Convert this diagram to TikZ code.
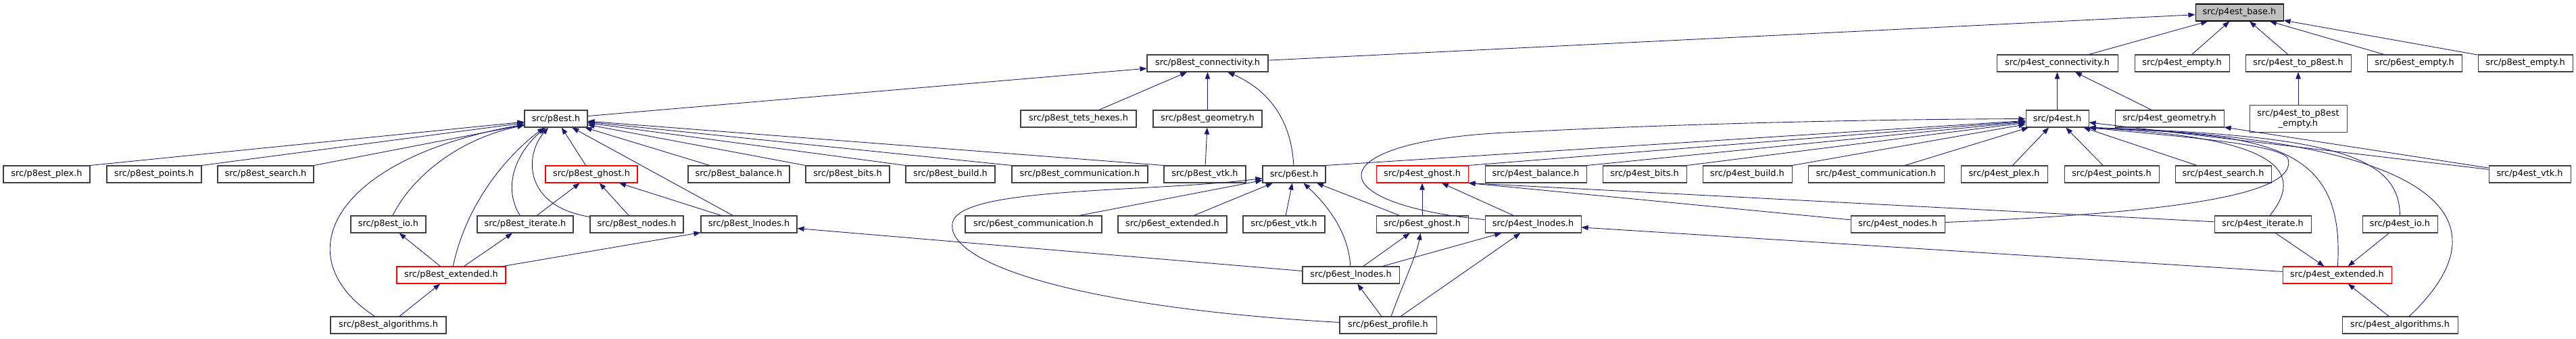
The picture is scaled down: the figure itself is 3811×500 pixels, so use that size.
\documentclass[tikz,border=0pt]{standalone}
\usepackage{fontspec}
\setsansfont{DejaVu Sans}
\usetikzlibrary{arrows.meta}
\definecolor{edgeblue}{RGB}{25,25,112}
\definecolor{boxgray}{RGB}{64,64,64}
\definecolor{rootgray}{RGB}{191,191,191}

\begin{document}
\begin{tikzpicture}[
    x=0.03cm, y=-0.03cm,
    font=\sffamily\fontsize{11}{13}\selectfont,
    box/.style={draw=boxgray, fill=white, line width=0.9pt, minimum height=0.75cm, inner xsep=1pt, inner ysep=0pt, align=center},
    wd/.style={minimum width={0.03cm*#1}},
    trunc/.style={box, draw=red},
    root/.style={box, draw=black, fill=rootgray},
    arr/.style={draw=edgeblue, line width=0.75pt, -{Triangle[length=0.3cm, width=0.22cm]}},
]
\path[fill=white] (0,0) rectangle (3811,500);

% Row 0
\node[root, wd=130] (base) at (3313,18.5) {src/p4est\_base.h};

% Row 1
\node[box, wd=179] (p8conn)  at (1786.5,93.5) {src/p8est\_connectivity.h};
\node[box, wd=179] (p4conn)  at (3043.5,93.5) {src/p4est\_connectivity.h};
\node[box, wd=140] (p4empty) at (3228,93.5)   {src/p4est\_empty.h};
\node[box, wd=156] (p4top8)  at (3400,93.5)   {src/p4est\_to\_p8est.h};
\node[box, wd=140] (p6empty) at (3572,93.5)   {src/p6est\_empty.h};
\node[box, wd=140] (p8empty) at (3736,93.5)   {src/p8est\_empty.h};

% Row 2
\node[box, wd=93]  (p8est)  at (822.5,175.5)  {src/p8est.h};
\node[box, wd=171] (p8tets) at (1595.5,175.5) {src/p8est\_tets\_hexes.h};
\node[box, wd=161] (p8geom) at (1786.5,175.5) {src/p8est\_geometry.h};
\node[box, wd=93]  (p4est)  at (3043.5,175.5) {src/p4est.h};
\node[box, wd=161] (p4geom) at (3209.5,175.5) {src/p4est\_geometry.h};
\node[box, wd=144, minimum height=1.2cm] (p4top8empty) at (3400,175.5) {src/p4est\_to\_p8est\\\_empty.h};

% Row 3
\node[box, wd=128]   (p8plex)    at (69,257.5)     {src/p8est\_plex.h};
\node[box, wd=140]   (p8points)  at (228,257.5)    {src/p8est\_points.h};
\node[box, wd=142]   (p8search)  at (393,257.5)    {src/p8est\_search.h};
\node[trunc, wd=136] (p8ghost)   at (875,257.5)    {src/p8est\_ghost.h};
\node[box, wd=150]   (p8balance) at (1093,257.5)   {src/p8est\_balance.h};
\node[box, wd=124]   (p8bits)    at (1254,257.5)   {src/p8est\_bits.h};
\node[box, wd=132]   (p8build)   at (1406,257.5)   {src/p8est\_build.h};
\node[box, wd=201]   (p8comm)    at (1597.5,257.5) {src/p8est\_communication.h};
\node[box, wd=121]   (p8vtk)     at (1782.5,257.5) {src/p8est\_vtk.h};
\node[box, wd=93]    (p6est)     at (1914.5,257.5) {src/p6est.h};
\node[trunc, wd=136] (p4ghost)   at (2104,257.5)   {src/p4est\_ghost.h};
\node[box, wd=150]   (p4balance) at (2272,257.5)   {src/p4est\_balance.h};
\node[box, wd=124]   (p4bits)    at (2433,257.5)   {src/p4est\_bits.h};
\node[box, wd=132]   (p4build)   at (2585,257.5)   {src/p4est\_build.h};
\node[box, wd=201]   (p4comm)    at (2775.5,257.5) {src/p4est\_communication.h};
\node[box, wd=128]   (p4plex)    at (2965,257.5)   {src/p4est\_plex.h};
\node[box, wd=140]   (p4points)  at (3124,257.5)   {src/p4est\_points.h};
\node[box, wd=142]   (p4search)  at (3289,257.5)   {src/p4est\_search.h};
\node[box, wd=121]   (p4vtk)     at (3742.5,257.5) {src/p4est\_vtk.h};

% Row 4
\node[box, wd=111] (p8io)     at (574.5,331.5)  {src/p8est\_io.h};
\node[box, wd=142] (p8iter)   at (777,331.5)    {src/p8est\_iterate.h};
\node[box, wd=138] (p8nodes)  at (942,331.5)    {src/p8est\_nodes.h};
\node[box, wd=142] (p8lnodes) at (1108,331.5)   {src/p8est\_lnodes.h};
\node[box, wd=202] (p6comm)   at (1529,331.5)   {src/p6est\_communication.h};
\node[box, wd=161] (p6ext)    at (1734.5,331.5) {src/p6est\_extended.h};
\node[box, wd=121] (p6vtk)    at (1899.5,331.5) {src/p6est\_vtk.h};
\node[box, wd=136] (p6ghost)  at (2104,331.5)   {src/p6est\_ghost.h};
\node[box, wd=142] (p4lnodes) at (2268,331.5)   {src/p4est\_lnodes.h};
\node[box, wd=139] (p4nodes)  at (2807.5,331.5) {src/p4est\_nodes.h};
\node[box, wd=143] (p4iter)   at (3347.5,331.5) {src/p4est\_iterate.h};
\node[box, wd=111] (p4io)     at (3550.5,331.5) {src/p4est\_io.h};

% Row 5
\node[trunc, wd=161] (p8ext)    at (667.5,406.5)  {src/p8est\_extended.h};
\node[box, wd=143]   (p6lnodes) at (1998.5,406.5) {src/p6est\_lnodes.h};
\node[trunc, wd=161] (p4ext)    at (3457.5,406.5) {src/p4est\_extended.h};

% Row 6
\node[box, wd=171] (p8alg)  at (574.5,480.5)  {src/p8est\_algorithms.h};
\node[box, wd=143] (p6prof) at (2053.5,480.5) {src/p6est\_profile.h};
\node[box, wd=171] (p4alg)  at (3550.5,480.5) {src/p4est\_algorithms.h};

% Edges into p4est_base.h
\draw[arr] (p8conn)  -- (base);
\draw[arr] (p4conn)  -- (base);
\draw[arr] (p4empty) -- (base);
\draw[arr] (p4top8)  -- (base);
\draw[arr] (p6empty) -- (base);
\draw[arr] (p8empty) -- (base);
\draw[arr] (p4top8empty) -- (p4top8);

% p8est side
\draw[arr] (p8est)  -- (p8conn);
\draw[arr] (p8tets) -- (p8conn);
\draw[arr] (p8geom) -- (p8conn);
\draw[arr] (p6est) .. controls (1910,170) and (1870,130) .. (p8conn);
\draw[arr] (p8vtk)  -- (p8geom);

\draw[arr] (p8plex.north east)   -- (p8est);
\draw[arr] (p8points.north east) -- (p8est);
\draw[arr] (p8search.north east) -- (p8est);
\draw[arr] (p8ghost)   -- (p8est);
\draw[arr] (p8balance) -- (p8est);
\draw[arr] (p8bits.north west)  -- (p8est);
\draw[arr] (p8build.north west) -- (p8est);
\draw[arr] (p8comm.north west)  -- (p8est);
\draw[arr] (p8vtk.north west)   -- (p8est);
\draw[arr] (p8lnodes)  -- (p8est);
\draw[arr] (p8io) .. controls (610,260) and (680,205) .. (p8est);
\draw[arr] (p8iter) .. controls (740,270) and (770,220) .. (p8est);
\draw[arr] (p8nodes) .. controls (775,305) and (775,230) .. (p8est);
\draw[arr] (p8ext) .. controls (690,300) and (750,230) .. (p8est);
\draw[arr] (p8alg) .. controls (420,380) and (490,235) .. (p8est);

\draw[arr] (p8iter)   -- (p8ghost);
\draw[arr] (p8nodes)  -- (p8ghost);
\draw[arr] (p8lnodes) -- (p8ghost);
\draw[arr] (p8ext) -- (p8io);
\draw[arr] (p8ext) -- (p8iter);
\draw[arr] (p8ext) -- (p8lnodes);
\draw[arr] (p8alg) -- (p8ext);
\draw[arr] (p6lnodes) -- (p8lnodes);

% p6est side
\draw[arr] (p6comm)  -- (p6est);
\draw[arr] (p6ext)   -- (p6est);
\draw[arr] (p6vtk)   -- (p6est);
\draw[arr] (p6ghost) -- (p6est);
\draw[arr] (p6lnodes) .. controls (1995,340) and (1960,300) .. (p6est);
\draw[arr] (p6prof) .. controls (1600,455) and (1400,390) .. (1409,330)
                    .. controls (1418,275) and (1700,285) .. (p6est);
\draw[arr] (p6lnodes) -- (p6ghost);
\draw[arr] (p6prof) .. controls (2075,420) and (2095,380) .. (p6ghost);
\draw[arr] (p6prof)   -- (p6lnodes);
\draw[arr] (p6prof)   -- (p4lnodes);
\draw[arr] (p6lnodes) -- (p4lnodes);
\draw[arr] (p6ghost)  -- (p4ghost);
\draw[arr] (p6est.north east) -- (p4est);

% p4est side
\draw[arr] (p4est)  -- (p4conn);
\draw[arr] (p4geom) -- (p4conn);
\draw[arr] (p4vtk)  -- (p4geom);
\draw[arr] (p4ghost.north east)   -- (p4est);
\draw[arr] (p4balance.north east) -- (p4est);
\draw[arr] (p4bits.north east)    -- (p4est);
\draw[arr] (p4build.north east)   -- (p4est);
\draw[arr] (p4comm)   -- (p4est);
\draw[arr] (p4plex)   -- (p4est);
\draw[arr] (p4points) -- (p4est);
\draw[arr] (p4search) -- (p4est);
\draw[arr] (p4vtk)    -- (p4est);
\draw[arr] (p4lnodes) .. controls (1940,300) and (1950,205) .. (2250,195)
                      .. controls (2500,182) and (2800,176) .. (p4est);
\draw[arr] (p4nodes) .. controls (3200,315) and (3400,290) .. (3385,235)
                     .. controls (3378,212) and (3200,200) .. (p4est.south east);
\draw[arr] (p4iter) .. controls (3430,230) and (3300,200) .. (p4est.south east);
\draw[arr] (p4ext) .. controls (3470,210) and (3350,200) .. (p4est.south east);
\draw[arr] (p4io) .. controls (3550,230) and (3450,200) .. (p4est.south east);
\draw[arr] (p4alg) .. controls (3720,320) and (3600,205) .. (p4est.south east);

\draw[arr] (p4lnodes) -- (p4ghost);
\draw[arr] (p4nodes)  -- (p4ghost.south east);
\draw[arr] (p4iter)   -- (p4ghost.south east);
\draw[arr] (p4ext)  -- (p4lnodes);
\draw[arr] (p4iter) -- (p4ext);
\draw[arr] (p4io)   -- (p4ext);
\draw[arr] (p4alg)  -- (p4ext);

\end{tikzpicture}
\end{document}
